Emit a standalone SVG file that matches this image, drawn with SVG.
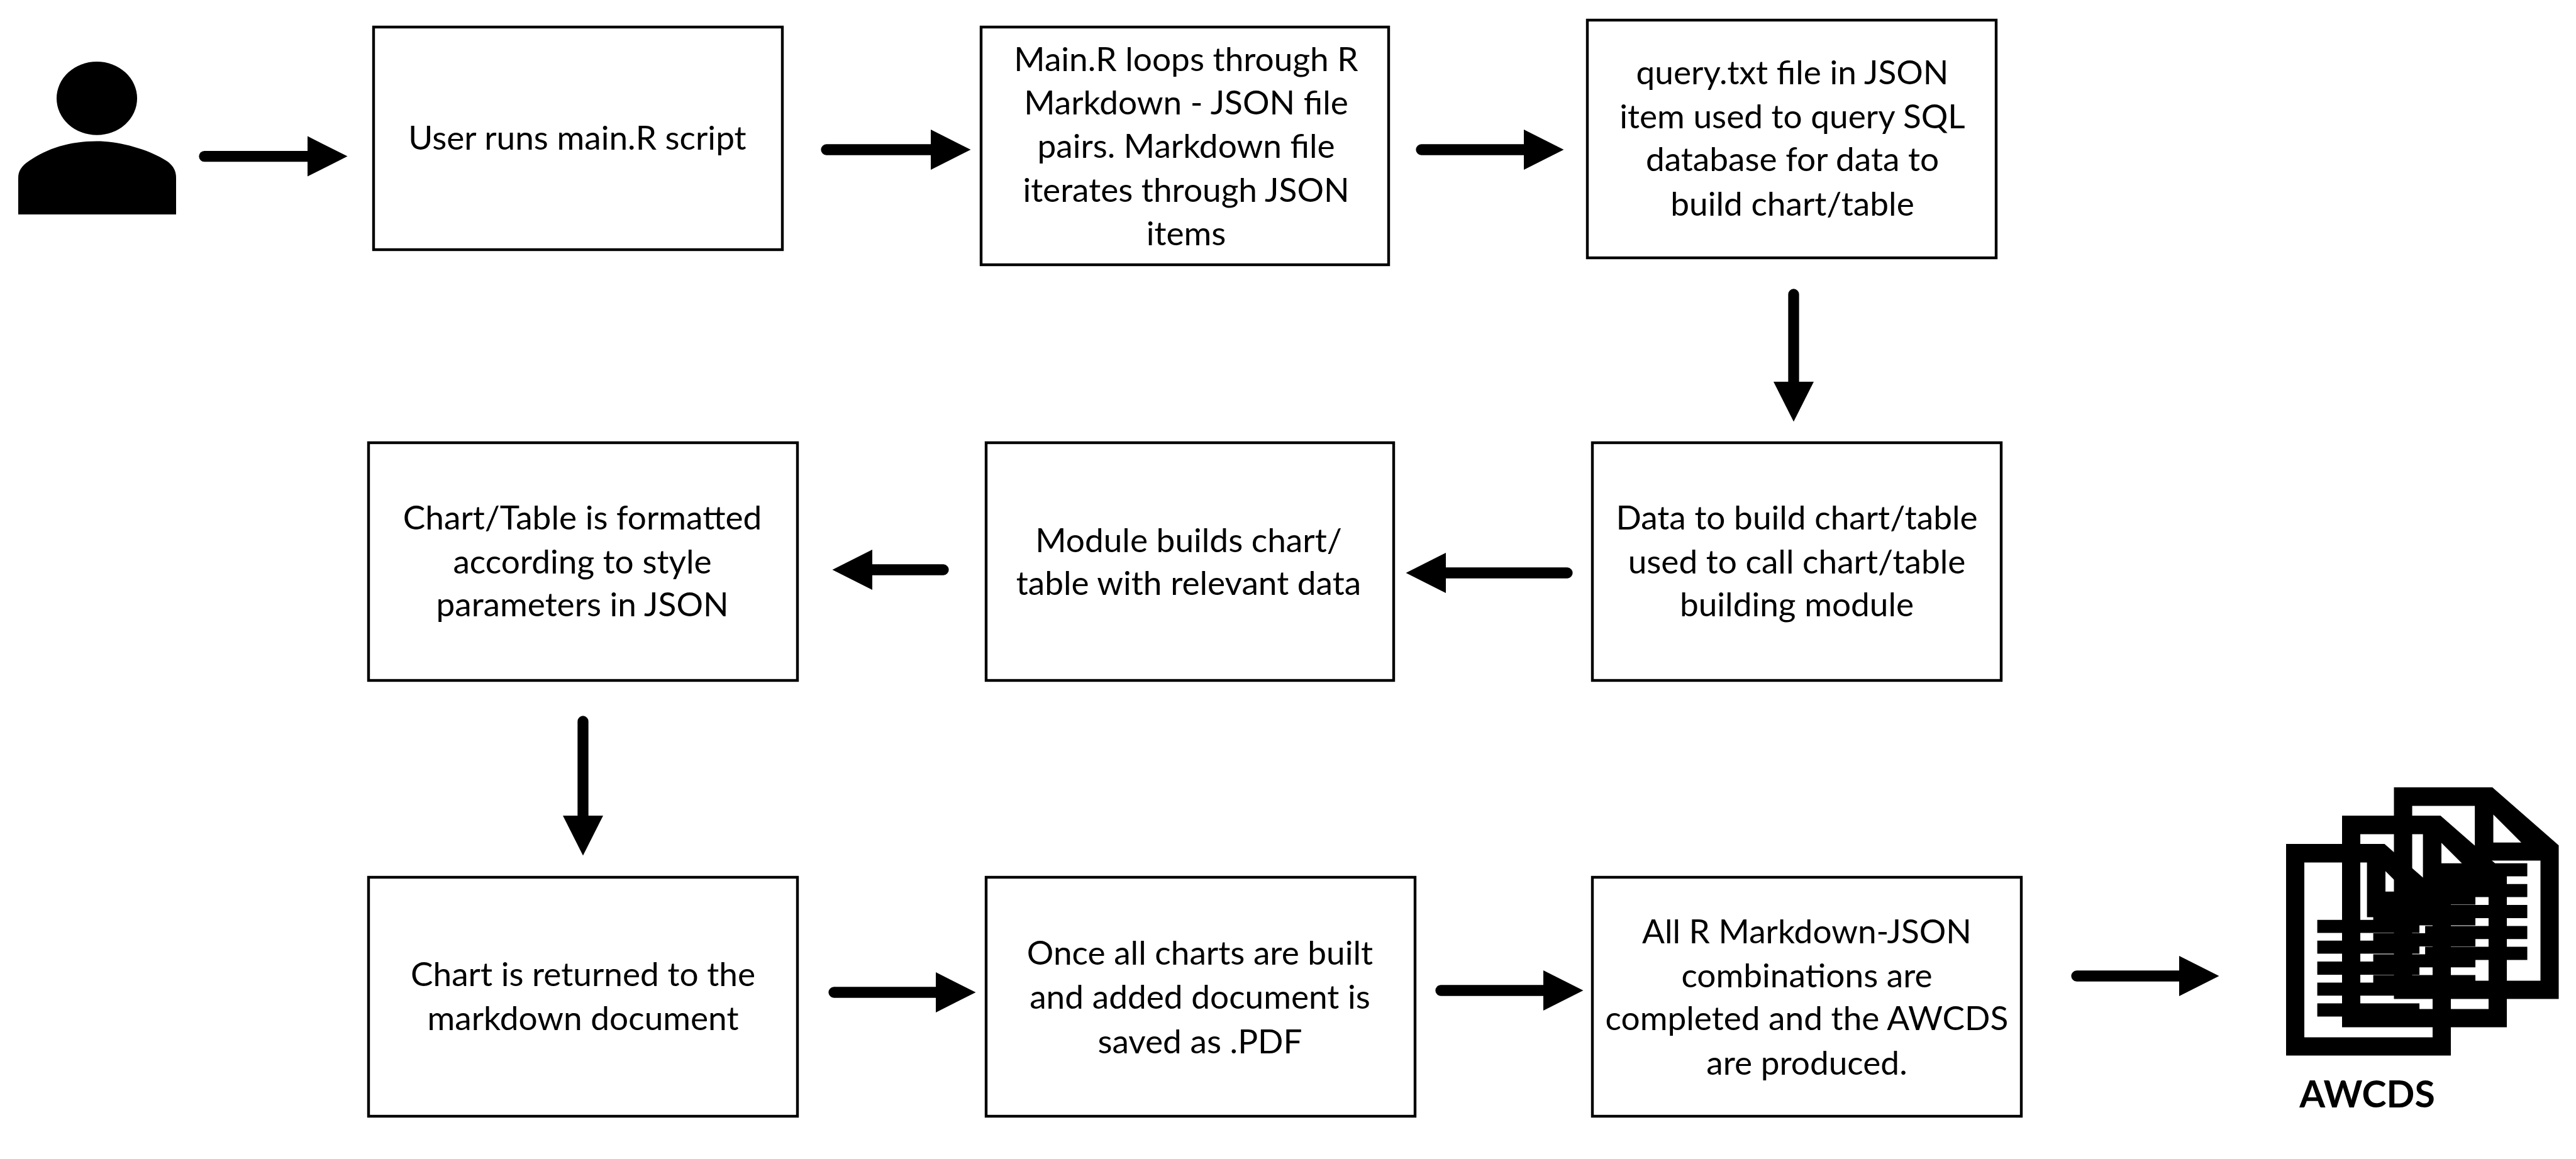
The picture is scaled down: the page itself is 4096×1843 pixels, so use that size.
<svg xmlns="http://www.w3.org/2000/svg" xmlns:xlink="http://www.w3.org/1999/xlink" width="4096" height="1843" viewBox="0 0 4096 1843">
<style>
.box{fill:#fff;stroke:#000;stroke-width:4.4}
text{font-family:"Lato","Carlito","Liberation Sans",sans-serif;font-size:53.2px;fill:#000;text-anchor:middle}
.b{font-weight:700;font-size:59px}
.c{fill:none;stroke:#000;stroke-width:17.3;stroke-linecap:round;marker-end:url(#ah)}
</style>
<defs>
<marker id="ah" markerUnits="userSpaceOnUse" markerWidth="66" markerHeight="66" refX="0" refY="33" orient="auto" overflow="visible"><path d="M0,1 L63.5,33 L0,65 Z" fill="#000"/></marker>
<path id="doc" fill-rule="evenodd" d="M0,0 H426 L713,243 V887 H0 Z M79,78 H350 V307 H634 V810 H79 Z M430,114 L551,231 H430 Z M135,318 H577 V373 H135 Z M135,405 H577 V460 H135 Z M135,493 H577 V548 H135 Z M135,581 H577 V636 H135 Z M135,668 H577 V723 H135 Z"/>
</defs>
<rect width="4096" height="1843" fill="#fff"/>
<g id="user">
<ellipse cx="154" cy="156.4" rx="64" ry="58.4"/>
<path d="M29,341 V283 C29,272 34,264 46,256 C75,236 110,224.4 154,224.4 C190,224.4 240,238 268,258 C276,265 280,272 280,283 V341 Z"/>
</g>
<g id="n1"><rect class="box" x="594" y="43" width="650" height="354"/><text x="918" y="238">User runs main.R script</text></g>
<g id="n2"><rect class="box" x="1560" y="43" width="648" height="378"/><text><tspan x="1886" y="112.5">Main.R loops through R</tspan><tspan x="1886" y="181.5">Markdown - JSON file</tspan><tspan x="1886" y="250.5">pairs. Markdown file</tspan><tspan x="1886" y="320.5">iterates through JSON</tspan><tspan x="1886" y="389.5">items</tspan></text></g>
<g id="n3"><rect class="box" x="2524" y="32" width="650" height="378"/><text><tspan x="2850" y="133.5">query.txt file in JSON</tspan><tspan x="2850" y="203.5">item used to query SQL</tspan><tspan x="2850" y="271.5">database for data to</tspan><tspan x="2850" y="342.5">build chart/table</tspan></text></g>
<g id="n4"><rect class="box" x="2532" y="704" width="650" height="378"/><text><tspan x="2857" y="841.5">Data to build chart/table</tspan><tspan x="2857" y="911.5">used to call chart/table</tspan><tspan x="2857" y="979.5">building module</tspan></text></g>
<g id="n5"><rect class="box" x="1568" y="704" width="648" height="378"/><text><tspan x="1890" y="877.5">Module builds chart/</tspan><tspan x="1890" y="945.5">table with relevant data</tspan></text></g>
<g id="n6"><rect class="box" x="586" y="704" width="682" height="378"/><text><tspan x="926" y="841.5">Chart/Table is formatted</tspan><tspan x="926" y="911.5">according to style</tspan><tspan x="926" y="979.5">parameters in JSON</tspan></text></g>
<g id="n7"><rect class="box" x="586" y="1395" width="682" height="380"/><text><tspan x="927" y="1567.5">Chart is returned to the</tspan><tspan x="927" y="1637.5">markdown document</tspan></text></g>
<g id="n8"><rect class="box" x="1568" y="1395" width="682" height="380"/><text><tspan x="1908" y="1533.5">Once all charts are built</tspan><tspan x="1908" y="1603.5">and added document is</tspan><tspan x="1908" y="1674.5">saved as .PDF</tspan></text></g>
<g id="n9"><rect class="box" x="2532" y="1395" width="682" height="380"/><text><tspan x="2873" y="1499.5">All R Markdown-JSON</tspan><tspan x="2873" y="1569.5">combinations are</tspan><tspan x="2873" y="1637.5">completed and the AWCDS</tspan><tspan x="2873" y="1708.5">are produced.</tspan></text></g>
<g id="awcds">
<use xlink:href="#doc" href="#doc" transform="translate(3806.5,1252) scale(.3675,.3795)"/>
<use xlink:href="#doc" href="#doc" transform="translate(3724,1297) scale(.3675,.3795)"/>
<use xlink:href="#doc" href="#doc" transform="translate(3635,1342) scale(.3675,.3795)"/>
<text class="b" x="3764" y="1761">AWCDS</text>
</g>
<g id="connectors">
<path class="c" d="M325,248.6 H489"/>
<path class="c" d="M1314,238 H1480"/>
<path class="c" d="M2260,238 H2423"/>
<path class="c" d="M2852,468 V607"/>
<path class="c" d="M2492,911 H2299"/>
<path class="c" d="M1500,906 H1387"/>
<path class="c" d="M927,1147 V1297"/>
<path class="c" d="M1326,1578 H1488"/>
<path class="c" d="M2291,1575 H2454"/>
<path class="c" d="M3302,1552 H3465"/>
</g>
</svg>
